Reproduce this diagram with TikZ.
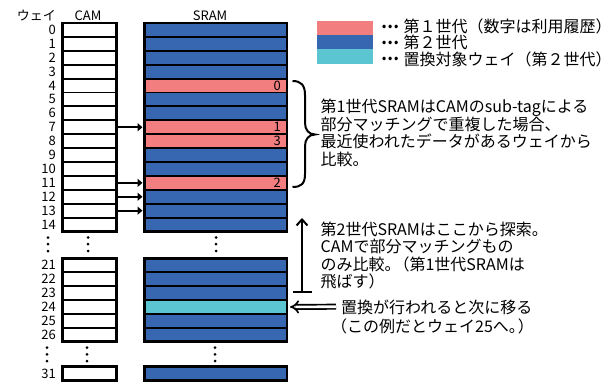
\documentclass[tikz,border=0pt]{standalone}
\usepackage{fontspec}
\setmainfont{Noto Sans CJK JP}
\usetikzlibrary{arrows.meta,calc}
\definecolor{gen1}{RGB}{242,126,128}
\definecolor{gen2}{RGB}{56,103,178}
\definecolor{replc}{RGB}{91,198,210}
\begin{document}
\begin{tikzpicture}[x=1pt,y=-1pt,
  camrow/.style={draw=black,fill=white,line width=1.9pt,minimum width=54pt,minimum height=13.9pt,inner sep=0pt,outer sep=0pt},
  sramrow/.style={draw=black,line width=1.9pt,minimum width=142.5pt,minimum height=13.9pt,inner sep=0pt,outer sep=0pt},
  frame/.style={draw=black,line width=2.7pt},
  wayno/.style={anchor=east,inner sep=0pt,font=\fontsize{13}{13}\selectfont},
  head/.style={anchor=base,inner sep=0pt,font=\fontsize{13}{13}\selectfont},
  camarrow/.style={line width=2pt,-{Triangle[length=5pt,width=8pt]},shorten >=2pt,shorten <=0.5pt},
  swatch/.style={minimum width=56pt,minimum height=14.3pt,inner sep=0pt,outer sep=0pt},
  legtxt/.style={anchor=base west,inner sep=0pt,font=\fontsize{16}{16}\selectfont},
  legdots/.style={anchor=base west,inner sep=0pt,font=\fontsize{16}{16}\selectfont\bfseries},
  note/.style={anchor=base west,inner sep=0pt,font=\fontsize{16}{17.5}\selectfont},
  vdot/.style={fill=black},
]
\useasboundingbox (0,0) rectangle (615,382);
\fill[white] (0,0) rectangle (615,382);
% headers
\node[head,anchor=base east] (hw) at (56,21) {ウェイ};
\node[head] (hc) at (88,21) {CAM};
\node[head] (hs) at (210,21) {SRAM};
% upper rows 0-14
\foreach \i/\col in {0/gen2,1/gen2,2/gen2,3/gen2,4/gen1,5/gen2,6/gen2,7/gen1,8/gen1,9/gen2,10/gen2,11/gen1,12/gen2,13/gen2,14/gen2} {
  \node[camrow] (c\i) at (89.2, 29.95+13.9*\i) {};
  \node[sramrow,fill=\col] (s\i) at (215.75, 29.95+13.9*\i) {};
  \node[wayno] (n\i) at (56, 29.95+13.9*\i) {\i};
}
% lower rows 21-26
\foreach \i/\col in {21/gen2,22/gen2,23/gen2,24/replc,25/gen2,26/gen2} {
  \node[camrow] (c\i) at (89.2, 265.25+13.9*\i-291.9) {};
  \node[sramrow,fill=\col] (s\i) at (215.75, 265.25+13.9*\i-291.9) {};
  \node[wayno] (n\i) at (56, 265.25+13.9*\i-291.9) {\i};
}
% row 31
\node[camrow] (c31) at (89.2,373.6) {};
\node[sramrow,fill=gen2] (s31) at (215.75,373.6) {};
\node[wayno] (n31) at (56,373.6) {31};
% frames
\draw[frame] (c0.north west) rectangle (c14.south east);
\draw[frame] (s0.north west) rectangle (s14.south east);
\draw[frame] (c21.north west) rectangle (c26.south east);
\draw[frame] (s21.north west) rectangle (s26.south east);
\draw[frame] (c31.north west) rectangle (c31.south east);
\draw[frame] (s31.north west) rectangle (s31.south east);
% usage history numbers
\node[wayno] (u0) at ($(s4.east)+(-6,0)$) {0};
\node[wayno] (u1) at ($(s7.east)+(-6,0)$) {1};
\node[wayno] (u3) at ($(s8.east)+(-6,0)$) {3};
\node[wayno] (u2) at ($(s11.east)+(-6,0)$) {2};
% CAM -> SRAM arrows
\foreach \i in {7,11,12,13} \draw[camarrow] (c\i.east) -- (s\i.west);
% vertical dots
\foreach \x in {48,88,216} \foreach \y in {237.5,244.2,251} \fill[vdot] (\x,\y) circle[radius=1.5pt];
\foreach \x in {47,87,215} \foreach \y in {347.7,354.3,361} \fill[vdot] (\x,\y) circle[radius=1.5pt];
% legend
\node[swatch,fill=gen1] (k1) at (344.7,27.85) {};
\node[swatch,fill=gen2] (k2) at (344.7,42) {};
\node[swatch,fill=replc] (k3) at (344.7,56.5) {};
\node[legdots] (d1) at (381,28.2) {…};
\node[legdots] (d2) at (381,44.2) {…};
\node[legdots] (d3) at (381,60.8) {…};
\node[legtxt] (l1) at (403.5,32.7) {第１世代（数字は利用履歴）};
\node[legtxt] (l2) at (403.5,48.7) {第２世代};
\node[legtxt] (l3) at (403.5,65.3) {置換対象ウェイ（第２世代）};
% brace
\draw[line width=2pt] (292.5,81) .. controls (301,81) and (305,85) .. (305,95) -- (305,123)
  .. controls (305,130) and (309,134.5) .. (315,134.5)
  .. controls (309,134.5) and (305,139) .. (305,146) -- (305,174)
  .. controls (305,184) and (301,187) .. (292.5,187);
\node[note] (b1a) at (320.5,112.7) {第1世代SRAMはCAMのsub-tagによる};
\node[note] (b1b) at (320.5,130.2) {部分マッチングで重複した場合、};
\node[note] (b1c) at (320.5,147.7) {最近使われたデータがあるウェイから};
\node[note] (b1d) at (320.5,165.2) {比較。};
% search arrow
\coordinate (upbot) at (302,292.5);
\coordinate (uptop) at (302,218);
\draw[line width=2pt,{Bar[width=19pt]}-{Straight Barb[length=6pt,width=11pt]}] (upbot) -- (uptop);
\node[note] (b2a) at (320.5,235.3) {第2世代SRAMはここから探索。};
\node[note] (b2b) at (320.5,252.8) {CAMで部分マッチングもの};
\node[note] (b2c) at (320.5,270.3) {のみ比較。\kern-0.45em（第1世代SRAMは};
\node[note] (b2d) at (320.5,287.8) {飛ばす）};
% replacement arrow
\coordinate (rtail) at (336,306.7);
\draw[double=white,double distance=2.6pt,line width=1.7pt,-{Implies[length=6pt]},shorten >=3pt] (rtail) -- (s24.east);
\node[note] (b3a) at (341,313.7) {置換が行われると次に移る};
\node[note] (b3b) at (331,332.7) {（この例だとウェイ25へ。\kern-0.45em）};
\end{tikzpicture}
\end{document}
